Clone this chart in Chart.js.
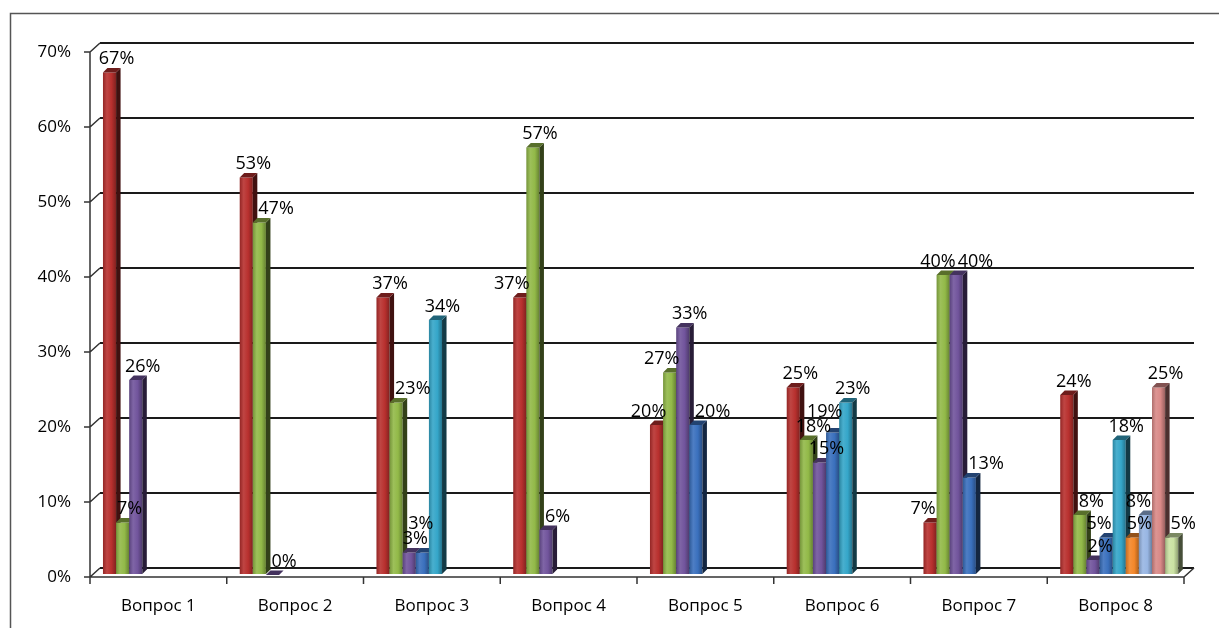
<!DOCTYPE html>
<html>
<head>
<meta charset="utf-8">
<script src="https://cdn.jsdelivr.net/npm/chart.js@4.4.1/dist/chart.umd.min.js"></script>
<style>
  html, body { margin: 0; padding: 0; background: #fff; }
  #wrap { width: 1219px; height: 628px; }
</style>
</head>
<body>
<div id="wrap"><canvas id="chart" width="1219" height="628"></canvas></div>
<script>
// answers per question, % of respondents (null = no such answer option)
const categories = ["Вопрос 1", "Вопрос 2", "Вопрос 3", "Вопрос 4", "Вопрос 5", "Вопрос 6", "Вопрос 7", "Вопрос 8"];
const answer1 = [67, 53, 37, 37, 20, 25, 7, 24];
const answer2 = [7, 47, 23, 57, 27, 18, 40, 8];
const answer3 = [26, 0, 3, 6, 33, 15, 40, 2];
const answer4 = [null, null, 3, null, 20, 19, 13, 5];
const answer5 = [null, null, 34, null, null, 23, null, 18];
const answer6 = [null, null, null, null, null, null, null, 5];
const answer7 = [null, null, null, null, null, null, null, 8];
const answer8 = [null, null, null, null, null, null, null, 25];
const answer9 = [null, null, null, null, null, null, null, 5];
const yTickValues = [0, 10, 20, 30, 40, 50, 60, 70];

const series = [answer1, answer2, answer3, answer4, answer5, answer6, answer7, answer8, answer9];
const COLORS = ["#B8302E", "#92B948", "#71549C", "#3A70BD", "#35A6C9", "#F3872A", "#98B6E3", "#D98987", "#CBE2A3"];
const FONT = "'Open Sans', Lato, sans-serif";
const WALL = { dx: 10, dy: 9 };     // back wall -> front axis offset
const SHIFT = { x: -6.4, y: 7 };    // bars stand between wall and front edge
const BAR_D = 4.5;                  // bar depth

function shade(hex, f) {
  const n = parseInt(hex.slice(1), 16);
  const t = f < 0 ? 0 : 255, p = Math.abs(f);
  const mix = (c) => Math.round(c + (t - c) * p);
  return `rgb(${mix(n >> 16)},${mix((n >> 8) & 255)},${mix(n & 255)})`;
}

function barGeom(chart, di, i) {
  const bar = chart.getDatasetMeta(di).data[i];
  const { x, y, base, width } = bar.getProps(["x", "y", "base", "width"], true);
  return { x0: x - width / 2 + SHIFT.x, x1: x + width / 2 + SHIFT.x, top: y + SHIFT.y, bot: base + SHIFT.y };
}

const frame = {
  id: "frame",
  beforeDraw(chart) {
    const ctx = chart.ctx;
    ctx.save();
    ctx.strokeStyle = "#555";
    ctx.lineWidth = 1.5;
    ctx.strokeRect(10.5, 13.5, 1400, 800);
    ctx.restore();
  },
};

const bars3d = {
  id: "bars3d",
  afterDatasetsDraw(chart) {
    const ctx = chart.ctx, y = chart.scales.y, ca = chart.chartArea;
    ctx.save();
    // front axes
    ctx.strokeStyle = "#333";
    ctx.lineWidth = 1.5;
    const fx = ca.left - WALL.dx, fy0 = y.getPixelForValue(0) + WALL.dy;
    ctx.beginPath();
    ctx.moveTo(fx, y.getPixelForValue(70) + WALL.dy);
    ctx.lineTo(fx, fy0);
    ctx.lineTo(ca.right - WALL.dx, fy0);
    ctx.lineTo(ca.right, fy0 - WALL.dy);
    yTickValues.forEach((v) => {
      const py = y.getPixelForValue(v);
      ctx.moveTo(fx - 6, py + WALL.dy);
      ctx.lineTo(fx, py + WALL.dy);
      ctx.lineTo(ca.left, py);
    });
    const cw = (ca.right - ca.left) / categories.length;
    for (let k = 0; k <= categories.length; k++) {
      const px = ca.left + k * cw - WALL.dx;
      ctx.moveTo(px, fy0);
      ctx.lineTo(px, fy0 + 7);
    }
    ctx.stroke();

    // bars: front, top and side faces
    const d = BAR_D;
    series.forEach((data, di) => {
      const c = COLORS[di];
      data.forEach((v, i) => {
        if (v == null) return;
        const g = barGeom(chart, di, i);
        const grad = ctx.createLinearGradient(g.x0, 0, g.x1, 0);
        grad.addColorStop(0, shade(c, -0.2));
        grad.addColorStop(0.3, shade(c, 0.1));
        grad.addColorStop(0.65, c);
        grad.addColorStop(1, shade(c, -0.3));
        ctx.fillStyle = grad;
        ctx.fillRect(g.x0, g.top, g.x1 - g.x0, g.bot - g.top);
        ctx.fillStyle = shade(c, -0.65);
        ctx.beginPath();
        ctx.moveTo(g.x1, g.top); ctx.lineTo(g.x1 + d, g.top - d);
        ctx.lineTo(g.x1 + d, g.bot - d); ctx.lineTo(g.x1, g.bot);
        ctx.closePath(); ctx.fill();
        ctx.fillStyle = shade(c, -0.4);
        ctx.beginPath();
        ctx.moveTo(g.x0, g.top); ctx.lineTo(g.x0 + d, g.top - d);
        ctx.lineTo(g.x1 + d, g.top - d); ctx.lineTo(g.x1, g.top);
        ctx.closePath(); ctx.fill();
      });
    });

    // value labels
    ctx.font = "18px " + FONT;
    ctx.fillStyle = "#000";
    ctx.textAlign = "center";
    ctx.textBaseline = "alphabetic";
    categories.forEach((_, i) => {
      const items = [];
      series.forEach((data, di) => {
        const v = data[i];
        if (v == null) return;
        const g = barGeom(chart, di, i);
        const text = v + "%";
        items.push({ text, di, w: ctx.measureText(text).width, h: 14,
          x: (g.x0 + g.x1) / 2 + 7, y: g.top - 15, bar: { x0: g.x0, x1: g.x1 + d, top: g.top - d } });
      });
      // keep clear of taller neighbouring bars
      items.forEach((it) => {
        let sr = 0, sl = 0;
        const L = it.x - it.w / 2, R = it.x + it.w / 2, B = it.y + it.h / 2;
        items.forEach((o) => {
          if (o === it) return;
          const b = o.bar;
          if (b.top < B && b.x0 < R && b.x1 > L) {
            if (o.di < it.di) sr = Math.max(sr, b.x1 + 1 - L);
            else sl = Math.max(sl, R - (b.x0 - 1));
          }
        });
        if (sr && !sl) it.x += Math.min(sr, 15);
        else if (sl && !sr) it.x -= Math.min(sl, 15);
      });
      // resolve label overlaps
      const placed = [];
      items.forEach((cur) => {
        for (let pass = 0; pass < 3; pass++) {
          let hit = false;
          placed.forEach((p) => {
            const ox = Math.min(cur.x + cur.w / 2, p.x + p.w / 2) - Math.max(cur.x - cur.w / 2, p.x - p.w / 2);
            const oy = (cur.h + p.h) / 2 - Math.abs(cur.y - p.y);
            if (ox <= 0 || oy <= 0) return;
            hit = true;
            if (Math.abs(cur.y - p.y) < 6 && ox < 0.7 * Math.min(cur.w, p.w)) {
              const s = (ox + 2) / 2; p.x -= s; cur.x += s;
            } else if (cur.y < p.y - 0.5) cur.y = p.y - (cur.h + p.h) / 2 - 1;
            else p.y = cur.y - (cur.h + p.h) / 2 - 1;
          });
          if (!hit) break;
        }
        placed.push(cur);
      });
      placed.forEach((it) => ctx.fillText(it.text, it.x, it.y + 6.5));
    });
    ctx.restore();
  },
};

new Chart(document.getElementById("chart"), {
  type: "bar",
  data: {
    labels: categories,
    datasets: series.map((data, di) => ({
      label: "Ответ " + (di + 1),
      data,
      backgroundColor: "rgba(0,0,0,0)",
      borderWidth: 0,
      categoryPercentage: 0.863,
      barPercentage: 1,
      clip: false,
    })),
  },
  options: {
    responsive: false,
    animation: false,
    devicePixelRatio: 1,
    layout: { padding: { top: 43, right: 25, left: 0, bottom: 0 } },
    plugins: { legend: { display: false }, tooltip: { enabled: false } },
    scales: {
      x: {
        grid: { display: false },
        border: { display: false },
        ticks: { color: "#000", font: { family: FONT, size: 17 }, padding: 20, labelOffset: -WALL.dx },
        afterFit: (s) => { s.height = 60; },
      },
      y: {
        min: 0, max: 70,
        afterBuildTicks: (s) => { s.ticks = yTickValues.map((v) => ({ value: v })); },
        grid: { color: "#1a1a1a", lineWidth: 2, drawTicks: false },
        border: { display: false },
        ticks: { color: "#000", font: { family: FONT, size: 17 }, padding: 29, labelOffset: WALL.dy, callback: (v) => v + "%" },
        afterFit: (s) => { s.width = 100; },
      },
    },
  },
  plugins: [frame, bars3d],
});
</script>
</body>
</html>
